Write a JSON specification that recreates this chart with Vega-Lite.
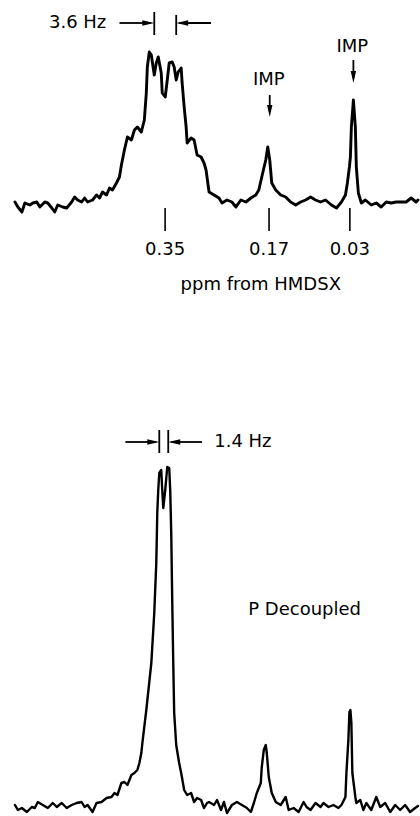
{
  "$schema": "https://vega.github.io/schema/vega-lite/v6.json",
  "width": 420,
  "height": 816,
  "autosize": {"type": "fit", "contains": "padding"},
  "padding": 0,
  "background": "white",
  "config": {
    "view": {"stroke": null},
    "text": {"font": "DejaVu Sans", "color": "black", "baseline": "middle", "align": "center"}
  },
  "datasets": {
    "upper": [
      {"ppm": 0.6101, "i": 1}, {"ppm": 0.605, "i": -1.5}, {"ppm": 0.5981, "i": -4}, {"ppm": 0.5929, "i": 0.5},
      {"ppm": 0.5843, "i": -0.5}, {"ppm": 0.5791, "i": 0.5}, {"ppm": 0.5722, "i": 1}, {"ppm": 0.567, "i": -1.5},
      {"ppm": 0.5584, "i": 1}, {"ppm": 0.5532, "i": 0.5}, {"ppm": 0.5463, "i": -2}, {"ppm": 0.5412, "i": -4},
      {"ppm": 0.536, "i": -0.5}, {"ppm": 0.5274, "i": -1.5}, {"ppm": 0.5205, "i": -2}, {"ppm": 0.5119, "i": 1},
      {"ppm": 0.5067, "i": 3.5}, {"ppm": 0.5015, "i": 2}, {"ppm": 0.4946, "i": 1}, {"ppm": 0.4895, "i": 3},
      {"ppm": 0.4843, "i": 1}, {"ppm": 0.4757, "i": 2}, {"ppm": 0.4688, "i": 4.5}, {"ppm": 0.4636, "i": 3},
      {"ppm": 0.4584, "i": 6}, {"ppm": 0.4515, "i": 4.5}, {"ppm": 0.4463, "i": 8}, {"ppm": 0.4412, "i": 7},
      {"ppm": 0.4343, "i": 10.5}, {"ppm": 0.4291, "i": 13.5}, {"ppm": 0.4257, "i": 19.5}, {"ppm": 0.4205, "i": 27},
      {"ppm": 0.4153, "i": 33.5}, {"ppm": 0.4084, "i": 32}, {"ppm": 0.4032, "i": 37}, {"ppm": 0.3981, "i": 38.5},
      {"ppm": 0.3912, "i": 36}, {"ppm": 0.386, "i": 42}, {"ppm": 0.3826, "i": 55.5}, {"ppm": 0.3808, "i": 68.5},
      {"ppm": 0.3774, "i": 76}, {"ppm": 0.3739, "i": 74.5}, {"ppm": 0.3688, "i": 64.5}, {"ppm": 0.3653, "i": 70.5},
      {"ppm": 0.3619, "i": 73.5}, {"ppm": 0.3567, "i": 65.5}, {"ppm": 0.355, "i": 55.5}, {"ppm": 0.3498, "i": 53.5},
      {"ppm": 0.3463, "i": 62}, {"ppm": 0.3429, "i": 70.5}, {"ppm": 0.3377, "i": 71}, {"ppm": 0.3343, "i": 68.5},
      {"ppm": 0.3308, "i": 62}, {"ppm": 0.3274, "i": 66}, {"ppm": 0.3222, "i": 68}, {"ppm": 0.3205, "i": 60.5},
      {"ppm": 0.317, "i": 48.5}, {"ppm": 0.3136, "i": 38.5}, {"ppm": 0.3119, "i": 30.5}, {"ppm": 0.305, "i": 33},
      {"ppm": 0.2998, "i": 32}, {"ppm": 0.2946, "i": 24.5}, {"ppm": 0.2877, "i": 23.5}, {"ppm": 0.2826, "i": 20.5},
      {"ppm": 0.2791, "i": 17}, {"ppm": 0.2739, "i": 6}, {"ppm": 0.2653, "i": 4.5}, {"ppm": 0.2567, "i": 3},
      {"ppm": 0.2515, "i": 0.5}, {"ppm": 0.2429, "i": 2}, {"ppm": 0.2343, "i": 1}, {"ppm": 0.2274, "i": -1.5},
      {"ppm": 0.2188, "i": 2}, {"ppm": 0.2101, "i": 1}, {"ppm": 0.2015, "i": 3}, {"ppm": 0.1929, "i": 4.5},
      {"ppm": 0.1877, "i": 7}, {"ppm": 0.1826, "i": 13.5}, {"ppm": 0.1757, "i": 22}, {"ppm": 0.1722, "i": 28.5},
      {"ppm": 0.1688, "i": 22}, {"ppm": 0.1653, "i": 10.5}, {"ppm": 0.1584, "i": 7}, {"ppm": 0.1498, "i": 4.5},
      {"ppm": 0.1412, "i": 3.5}, {"ppm": 0.1326, "i": 1}, {"ppm": 0.1239, "i": -0.5}, {"ppm": 0.1153, "i": 1},
      {"ppm": 0.1067, "i": 2}, {"ppm": 0.0981, "i": 3.5}, {"ppm": 0.0895, "i": 2}, {"ppm": 0.0808, "i": 1},
      {"ppm": 0.0722, "i": 2}, {"ppm": 0.0619, "i": -0.5}, {"ppm": 0.0532, "i": -2}, {"ppm": 0.0446, "i": 1},
      {"ppm": 0.0377, "i": 4.5}, {"ppm": 0.0343, "i": 10.5}, {"ppm": 0.0308, "i": 18.5}, {"ppm": 0.0291, "i": 23.5},
      {"ppm": 0.0274, "i": 38.5}, {"ppm": 0.0239, "i": 52}, {"ppm": 0.0205, "i": 38.5}, {"ppm": 0.0188, "i": 18.5},
      {"ppm": 0.0153, "i": 5.5}, {"ppm": 0.0101, "i": 0.5}, {"ppm": 0.0032, "i": 2}, {"ppm": -0.0071, "i": -0.5},
      {"ppm": -0.0157, "i": 0.5}, {"ppm": -0.0243, "i": -1.5}, {"ppm": -0.033, "i": 1}, {"ppm": -0.0416, "i": 0.5},
      {"ppm": -0.0502, "i": 1}, {"ppm": -0.0588, "i": 1}, {"ppm": -0.0675, "i": 1}, {"ppm": -0.0761, "i": 3},
      {"ppm": -0.0847, "i": 1}, {"ppm": -0.088, "i": 2}
    ],
    "lower": [
      {"ppm": 0.6101, "i": -1.25}, {"ppm": 0.605, "i": -2.5}, {"ppm": 0.5981, "i": -2}, {"ppm": 0.5895, "i": -3},
      {"ppm": 0.5808, "i": -1.75}, {"ppm": 0.5757, "i": -2}, {"ppm": 0.5705, "i": -0.5}, {"ppm": 0.5619, "i": -1.25},
      {"ppm": 0.5532, "i": -2}, {"ppm": 0.5446, "i": -0.75}, {"ppm": 0.5377, "i": -1.75}, {"ppm": 0.5291, "i": -0.75},
      {"ppm": 0.5205, "i": -2}, {"ppm": 0.5119, "i": -1.25}, {"ppm": 0.5032, "i": -0.75}, {"ppm": 0.4946, "i": -0.5},
      {"ppm": 0.4895, "i": -1.75}, {"ppm": 0.4843, "i": -1.25}, {"ppm": 0.4757, "i": -3}, {"ppm": 0.4688, "i": -0.75},
      {"ppm": 0.4601, "i": -0.5}, {"ppm": 0.4515, "i": 0.5}, {"ppm": 0.4429, "i": 0.75}, {"ppm": 0.4377, "i": 1.75},
      {"ppm": 0.4326, "i": 1.25}, {"ppm": 0.4257, "i": 4.25}, {"ppm": 0.4205, "i": 4.5}, {"ppm": 0.4153, "i": 3.75},
      {"ppm": 0.4084, "i": 6.25}, {"ppm": 0.4032, "i": 6.75}, {"ppm": 0.3981, "i": 7.5}, {"ppm": 0.3946, "i": 9.25},
      {"ppm": 0.3912, "i": 11.75}, {"ppm": 0.3894, "i": 14.25}, {"ppm": 0.3826, "i": 22.5}, {"ppm": 0.3739, "i": 34.25},
      {"ppm": 0.3688, "i": 46.75}, {"ppm": 0.3653, "i": 59.25}, {"ppm": 0.3636, "i": 71.75}, {"ppm": 0.3619, "i": 77.5},
      {"ppm": 0.3601, "i": 81.75}, {"ppm": 0.3567, "i": 82.5}, {"ppm": 0.355, "i": 77.5}, {"ppm": 0.3532, "i": 73},
      {"ppm": 0.3498, "i": 77.5}, {"ppm": 0.3463, "i": 83.25}, {"ppm": 0.3429, "i": 83}, {"ppm": 0.3412, "i": 77.5},
      {"ppm": 0.3394, "i": 66.75}, {"ppm": 0.3377, "i": 50}, {"ppm": 0.336, "i": 35}, {"ppm": 0.3343, "i": 21.75},
      {"ppm": 0.3308, "i": 13.75}, {"ppm": 0.3257, "i": 9.25}, {"ppm": 0.3222, "i": 6.75}, {"ppm": 0.317, "i": 2.5},
      {"ppm": 0.3119, "i": 1.25}, {"ppm": 0.305, "i": 1.75}, {"ppm": 0.2998, "i": -0.5}, {"ppm": 0.2946, "i": 0.5},
      {"ppm": 0.2877, "i": 0}, {"ppm": 0.2826, "i": -2}, {"ppm": 0.2774, "i": -0.75}, {"ppm": 0.2739, "i": -0.5},
      {"ppm": 0.2653, "i": -1.25}, {"ppm": 0.2601, "i": 0}, {"ppm": 0.2532, "i": -2.5}, {"ppm": 0.2481, "i": -0.5},
      {"ppm": 0.2429, "i": -3.25}, {"ppm": 0.2343, "i": -1.25}, {"ppm": 0.2257, "i": -0.5}, {"ppm": 0.217, "i": -1.25},
      {"ppm": 0.2084, "i": -2}, {"ppm": 0.2015, "i": -3}, {"ppm": 0.1963, "i": -0.75}, {"ppm": 0.1912, "i": 1.75},
      {"ppm": 0.1843, "i": 4.25}, {"ppm": 0.1826, "i": 8.25}, {"ppm": 0.1791, "i": 12.5}, {"ppm": 0.1757, "i": 13.75},
      {"ppm": 0.1739, "i": 11.75}, {"ppm": 0.1705, "i": 5.75}, {"ppm": 0.1653, "i": 1.75}, {"ppm": 0.1584, "i": -0.5},
      {"ppm": 0.1498, "i": -1.25}, {"ppm": 0.1412, "i": 0.75}, {"ppm": 0.136, "i": -2.5}, {"ppm": 0.1274, "i": -2},
      {"ppm": 0.1188, "i": -3}, {"ppm": 0.1101, "i": -0.5}, {"ppm": 0.105, "i": -1.75}, {"ppm": 0.0981, "i": -2.5},
      {"ppm": 0.0895, "i": -0.75}, {"ppm": 0.0808, "i": -1.75}, {"ppm": 0.0757, "i": -0.75}, {"ppm": 0.067, "i": -1.75},
      {"ppm": 0.0584, "i": -1.25}, {"ppm": 0.0498, "i": -2}, {"ppm": 0.0446, "i": -1.25}, {"ppm": 0.0377, "i": 0.75},
      {"ppm": 0.036, "i": 6.75}, {"ppm": 0.0326, "i": 15}, {"ppm": 0.0308, "i": 22}, {"ppm": 0.0291, "i": 22.5},
      {"ppm": 0.0274, "i": 19.25}, {"ppm": 0.0257, "i": 6.75}, {"ppm": 0.0205, "i": 0.75}, {"ppm": 0.0188, "i": -0.75},
      {"ppm": 0.0119, "i": 0}, {"ppm": 0.0067, "i": -2.5}, {"ppm": 0.0015, "i": -0.75}, {"ppm": -0.0071, "i": -2.5},
      {"ppm": -0.0157, "i": 0.75}, {"ppm": -0.0226, "i": -1.75}, {"ppm": -0.0312, "i": -0.75}, {"ppm": -0.0399, "i": -3},
      {"ppm": -0.0485, "i": -1.25}, {"ppm": -0.0571, "i": -2.5}, {"ppm": -0.0657, "i": -1.25}, {"ppm": -0.0743, "i": -3},
      {"ppm": -0.083, "i": -2}, {"ppm": -0.088, "i": -1.5}
    ],
    "shifts": [{"ppm": 0.35}, {"ppm": 0.17}, {"ppm": 0.03}],
    "upperLines": [
      {"ppm": 0.4291, "ppm2": 0.3745, "i": 90.5, "i2": 90.5},
      {"ppm": 0.3688, "ppm2": 0.3688, "i": 96, "i2": 84.5},
      {"ppm": 0.3308, "ppm2": 0.3308, "i": 94.5, "i2": 84.5},
      {"ppm": 0.3255, "ppm2": 0.2705, "i": 90.5, "i2": 90.5},
      {"ppm": 0.1688, "ppm2": 0.1688, "i": 54.5, "i2": 46},
      {"ppm": 0.0239, "ppm2": 0.0239, "i": 72, "i2": 63}
    ],
    "upperHeads": [
      {"ppm": 0.3688, "i": 90.5, "dir": "right"},
      {"ppm": 0.3308, "i": 90.5, "dir": "left"},
      {"ppm": 0.1688, "i": 43.5, "dir": "down"},
      {"ppm": 0.0239, "i": 60.5, "dir": "down"}
    ],
    "upperNotes": [
      {"ppm": 0.5015, "i": 90.5, "label": "3.6 Hz"},
      {"ppm": 0.1705, "i": 62, "label": "IMP"},
      {"ppm": 0.0257, "i": 78.5, "label": "IMP"},
      {"ppm": 0.1843, "i": -40.5, "label": "ppm from HMDSX"}
    ],
    "lowerLines": [
      {"ppm": 0.4188, "ppm2": 0.3655, "i": 89.5, "i2": 89.5},
      {"ppm": 0.3601, "ppm2": 0.3601, "i": 92.5, "i2": 86.75},
      {"ppm": 0.3446, "ppm2": 0.3446, "i": 92.5, "i2": 86.75},
      {"ppm": 0.3392, "ppm2": 0.286, "i": 89.5, "i2": 89.5}
    ],
    "lowerHeads": [
      {"ppm": 0.3601, "i": 89.5, "dir": "right"},
      {"ppm": 0.3446, "i": 89.5, "dir": "left"}
    ],
    "lowerNotes": [
      {"ppm": 0.2153, "i": 89.5, "label": "1.4 Hz"},
      {"ppm": 0.1084, "i": 47.5, "label": "P Decoupled"}
    ]
  },
  "layer": [
    {
      "layer": [
        {
          "data": {"name": "upper"},
          "mark": {"type": "line", "color": "black", "strokeWidth": 2.9, "strokeJoin": "round", "strokeCap": "round"},
          "encoding": {
            "x": {"field": "ppm", "type": "quantitative", "axis": null, "scale": {"domain": [-0.088, 0.636], "reverse": true, "nice": false, "zero": false}},
            "y": {"field": "i", "type": "quantitative", "axis": null, "scale": {"domain": [-306, 102], "nice": false, "zero": false}}
          }
        },
        {
          "data": {"name": "shifts"},
          "mark": {"type": "rule", "color": "black", "strokeWidth": 1.6},
          "encoding": {
            "x": {"field": "ppm", "type": "quantitative", "axis": null, "scale": {"domain": [-0.088, 0.636], "reverse": true, "nice": false, "zero": false}},
            "y": {"datum": -2, "type": "quantitative", "axis": null, "scale": {"domain": [-306, 102], "nice": false, "zero": false}},
            "y2": {"datum": -13.5}
          }
        },
        {
          "data": {"name": "shifts"},
          "mark": {"type": "text", "fontSize": 18},
          "encoding": {
            "x": {"field": "ppm", "type": "quantitative", "axis": null, "scale": {"domain": [-0.088, 0.636], "reverse": true, "nice": false, "zero": false}},
            "y": {"datum": -23, "type": "quantitative", "axis": null, "scale": {"domain": [-306, 102], "nice": false, "zero": false}},
            "text": {"field": "ppm", "type": "quantitative", "format": ".2f"}
          }
        },
        {
          "data": {"name": "upperLines"},
          "mark": {"type": "rule", "color": "black", "strokeWidth": 1.8},
          "encoding": {
            "x": {"field": "ppm", "type": "quantitative", "axis": null, "scale": {"domain": [-0.088, 0.636], "reverse": true, "nice": false, "zero": false}},
            "x2": {"field": "ppm2"},
            "y": {"field": "i", "type": "quantitative", "axis": null, "scale": {"domain": [-306, 102], "nice": false, "zero": false}},
            "y2": {"field": "i2"}
          }
        },
        {
          "data": {"name": "upperHeads"},
          "mark": {"type": "point", "filled": true, "color": "black", "opacity": 1, "size": 144, "strokeWidth": 0},
          "encoding": {
            "x": {"field": "ppm", "type": "quantitative", "axis": null, "scale": {"domain": [-0.088, 0.636], "reverse": true, "nice": false, "zero": false}},
            "y": {"field": "i", "type": "quantitative", "axis": null, "scale": {"domain": [-306, 102], "nice": false, "zero": false}},
            "shape": {"field": "dir", "type": "nominal", "legend": null, "scale": {"domain": ["right", "left", "down"], "range": ["M0,0L-2,-0.45L-2,0.45Z", "M0,0L2,-0.45L2,0.45Z", "M0,0L-0.45,-2L0.45,-2Z"]}}
          }
        },
        {
          "data": {"name": "upperNotes"},
          "mark": {"type": "text", "fontSize": 18},
          "encoding": {
            "x": {"field": "ppm", "type": "quantitative", "axis": null, "scale": {"domain": [-0.088, 0.636], "reverse": true, "nice": false, "zero": false}},
            "y": {"field": "i", "type": "quantitative", "axis": null, "scale": {"domain": [-306, 102], "nice": false, "zero": false}},
            "text": {"field": "label", "type": "nominal"}
          }
        }
      ]
    },
    {
      "layer": [
        {
          "data": {"name": "lower"},
          "mark": {"type": "line", "color": "black", "strokeWidth": 2.4, "strokeJoin": "round", "strokeCap": "round"},
          "encoding": {
            "x": {"field": "ppm", "type": "quantitative", "axis": null, "scale": {"domain": [-0.088, 0.636], "reverse": true, "nice": false, "zero": false}},
            "y": {"field": "i", "type": "quantitative", "axis": null, "scale": {"domain": [-4, 200], "nice": false, "zero": false}}
          }
        },
        {
          "data": {"name": "lowerLines"},
          "mark": {"type": "rule", "color": "black", "strokeWidth": 1.8},
          "encoding": {
            "x": {"field": "ppm", "type": "quantitative", "axis": null, "scale": {"domain": [-0.088, 0.636], "reverse": true, "nice": false, "zero": false}},
            "x2": {"field": "ppm2"},
            "y": {"field": "i", "type": "quantitative", "axis": null, "scale": {"domain": [-4, 200], "nice": false, "zero": false}},
            "y2": {"field": "i2"}
          }
        },
        {
          "data": {"name": "lowerHeads"},
          "mark": {"type": "point", "filled": true, "color": "black", "opacity": 1, "size": 144, "strokeWidth": 0},
          "encoding": {
            "x": {"field": "ppm", "type": "quantitative", "axis": null, "scale": {"domain": [-0.088, 0.636], "reverse": true, "nice": false, "zero": false}},
            "y": {"field": "i", "type": "quantitative", "axis": null, "scale": {"domain": [-4, 200], "nice": false, "zero": false}},
            "shape": {"field": "dir", "type": "nominal", "legend": null, "scale": {"domain": ["right", "left"], "range": ["M0,0L-2,-0.45L-2,0.45Z", "M0,0L2,-0.45L2,0.45Z"]}}
          }
        },
        {
          "data": {"name": "lowerNotes"},
          "mark": {"type": "text", "fontSize": 18},
          "encoding": {
            "x": {"field": "ppm", "type": "quantitative", "axis": null, "scale": {"domain": [-0.088, 0.636], "reverse": true, "nice": false, "zero": false}},
            "y": {"field": "i", "type": "quantitative", "axis": null, "scale": {"domain": [-4, 200], "nice": false, "zero": false}},
            "text": {"field": "label", "type": "nominal"}
          }
        }
      ]
    }
  ],
  "resolve": {"scale": {"y": "independent", "shape": "independent"}}
}
